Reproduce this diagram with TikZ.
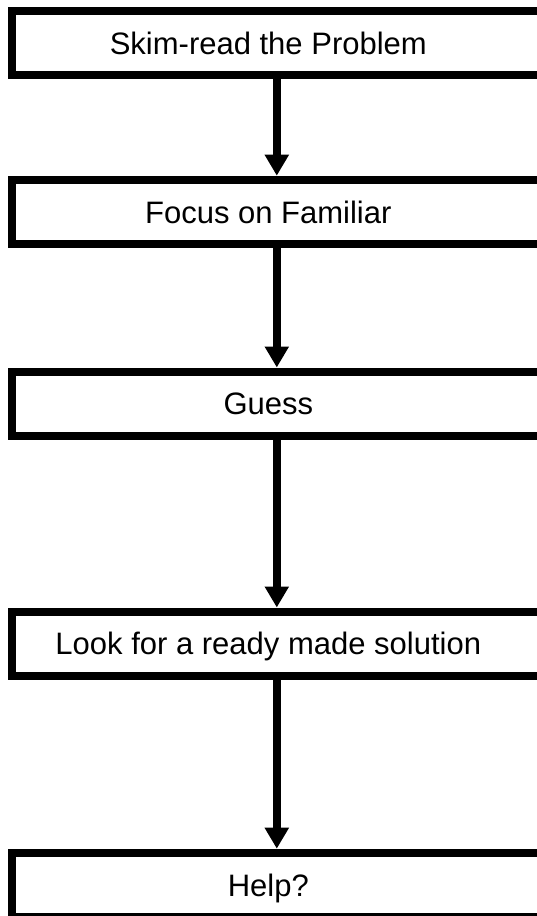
\documentclass[tikz,border=0pt]{standalone}
\usepackage{fontspec}
\setmainfont{Liberation Sans}
\usetikzlibrary{arrows.meta}
\begin{document}
\begin{tikzpicture}[x=1pt,y=1pt,
  stepbox/.style={draw=black, fill=white, line width=8pt, minimum width=529.6pt, minimum height=64pt, inner sep=0pt},
  lbl/.style={font=\fontsize{31}{36}\selectfont, text height=22.6pt, text depth=0pt, inner sep=0pt},
  arr/.style={line width=8pt, -{Triangle[length=21pt,width=23pt]}}]
\useasboundingbox (0,0) rectangle (537,-916);
\node[stepbox] (b1) at (276.8,-43.3) {};
\node[stepbox] (b2) at (276.8,-211.7) {};
\node[stepbox] (b3) at (276.8,-403.5) {};
\node[stepbox] (b4) at (276.8,-643.5) {};
\node[stepbox] (b5) at (276.8,-884.7) {};
\node[lbl] (t1) at ([xshift=-8.5pt]b1.center) {Skim-read the Problem};
\node[lbl] (t2) at ([xshift=-8.5pt]b2.center) {Focus on Familiar};
\node[lbl] (t3) at ([xshift=-8.5pt]b3.center) {Guess};
\node[lbl] (t4) at ([xshift=-8.5pt]b4.center) {Look for a ready made solution};
\node[lbl] (t5) at ([xshift=-8.5pt]b5.center) {Help?};
\draw[arr] (b1.south) -- (b2.north);
\draw[arr] (b2.south) -- (b3.north);
\draw[arr] (b3.south) -- (b4.north);
\draw[arr] (b4.south) -- (b5.north);
\end{tikzpicture}
\end{document}
